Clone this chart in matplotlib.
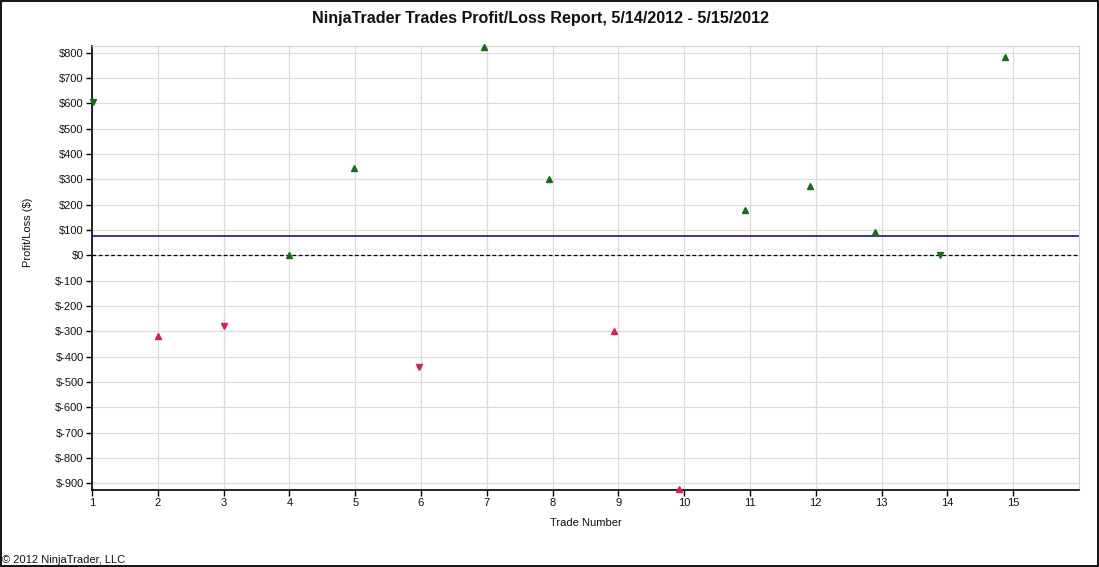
import matplotlib
matplotlib.use("Agg")
import matplotlib.pyplot as plt
from matplotlib.patches import Rectangle
from matplotlib.ticker import FuncFormatter, FixedLocator

plt.rcParams['font.family'] = ['Liberation Sans', 'DejaVu Sans']

# Data
trade_numbers = list(range(1, 16))
marker_x = [1.02, 2.01, 3.00, 3.99, 4.98, 5.97, 6.96, 7.95, 8.94, 9.92,
            10.92, 11.91, 12.90, 13.89, 14.88]
profit_loss = [605, -320, -278, 0, 343, -439, 821, 300, -300, -922,
               180, 272, 91, 3, 782]
direction = ['short', 'long', 'short', 'long', 'long', 'short', 'long', 'long',
             'long', 'long', 'long', 'long', 'long', 'short', 'long']
y_ticks = list(range(-900, 801, 100))
x_ticks = list(range(1, 16))

title = "NinjaTrader Trades Profit/Loss Report, 5/14/2012 - 5/15/2012"
green = '#1b6b1b'
red = '#d6204e'

W, H = 1099, 567
fig = plt.figure(figsize=(W / 100, H / 100), dpi=100)
ax = fig.add_axes([92 / W, 1 - 490 / H, (1079 - 92) / W, (490 - 46) / H])

ax.set_xlim(1, 16)
ax.set_ylim(-926.5, 826.5)

ax.yaxis.set_major_locator(FixedLocator(y_ticks))
ax.xaxis.set_major_locator(FixedLocator(x_ticks))
ax.yaxis.set_major_formatter(FuncFormatter(lambda v, p: f"${int(v)}"))
ax.grid(True, color='#dcdcdc', linewidth=0.9, zorder=0)
ax.set_axisbelow(True)

for s in ['top', 'right']:
    ax.spines[s].set_color('#d0d0d0')
for s in ['left', 'bottom']:
    ax.spines[s].set_color('black')
    ax.spines[s].set_linewidth(1.2)

ax.tick_params(axis='both', direction='out', length=4, width=1, color='black',
               labelsize=8, labelcolor='#111111', pad=2)

mean_pl = sum(profit_loss) / len(profit_loss)
ax.axhline(mean_pl, color='#00008b', linewidth=1.1, zorder=2)
ax.axhline(25, color='#e4e4e4', linewidth=0.8, linestyle=(0, (1, 1)), zorder=1)
ax.axhline(0, color='black', linewidth=0.9, linestyle=(0, (3, 2)), zorder=2)

for x, v, d in zip(marker_x, profit_loss, direction):
    m = '^' if d == 'long' else 'v'
    c = green if v >= 0 else red
    ax.plot([x], [v], marker=m, color=c, markersize=4.8, linestyle='none',
            zorder=3, clip_on=False)

fig.text(541 / W, 1 - 18 / H, title, ha='center', va='center',
         fontsize=11.6, fontweight='bold', color='#111111')
fig.text(28 / W, 1 - 232 / H, "Profit/Loss ($)", rotation=90, ha='center',
         va='center', fontsize=8, color='#111111')
fig.text(586 / W, 1 - 523 / H, "Trade Number", ha='center', va='center',
         fontsize=8, color='#111111')
fig.text(2 / W, 1 - 560 / H, "\u00a9 2012 NinjaTrader, LLC", ha='left',
         va='center', fontsize=8, color='#111111')

fig.patches.append(Rectangle((0.5 / W, 1 - 565.5 / H), 1097 / W, 565 / H,
                             transform=fig.transFigure, fill=False,
                             edgecolor='black', linewidth=1.3))

fig.savefig('out.png', dpi=100)
